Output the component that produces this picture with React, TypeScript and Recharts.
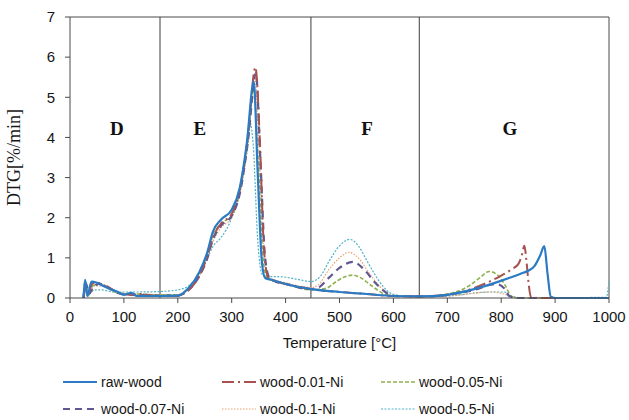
import { LineChart, Line, XAxis, YAxis, ReferenceLine, ReferenceDot, Legend } from 'recharts'

// temperature [°C] / DTG [%/min], one pair of arrays per sample
const rawWoodT = [25, 28, 32, 40, 50, 62, 75, 87, 100, 114, 124, 140, 170, 200, 220, 240, 255, 265, 280, 300, 315, 328, 341, 348, 356, 362, 375, 400, 448, 500, 550, 600, 650, 700, 750, 798, 835, 850, 862, 872, 880, 886, 892, 900, 1000]
const rawWoodV = [0, 0.45, 0.05, 0.41, 0.38, 0.3, 0.22, 0.16, 0.08, 0.13, 0.05, 0.05, 0.05, 0.06, 0.25, 0.65, 1.15, 1.65, 1.95, 2.2, 2.75, 3.85, 5.4, 3.2, 0.9, 0.5, 0.45, 0.35, 0.22, 0.15, 0.1, 0.05, 0.04, 0.08, 0.22, 0.42, 0.6, 0.68, 0.8, 1.05, 1.29, 0.6, 0.03, 0, 0]

const ni001T = [25, 28, 33, 42, 52, 65, 80, 95, 110, 130, 160, 200, 220, 240, 255, 265, 280, 300, 315, 330, 344, 352, 360, 368, 380, 400, 448, 500, 550, 600, 650, 700, 750, 780, 800, 820, 832, 838, 843, 847, 851, 855, 870, 1000]
const ni001V = [0, 0.3, 0.1, 0.36, 0.38, 0.3, 0.2, 0.1, 0.08, 0.1, 0.05, 0.05, 0.2, 0.55, 1.05, 1.5, 1.85, 2.1, 2.7, 4.0, 5.75, 4.0, 1.2, 0.5, 0.42, 0.35, 0.22, 0.15, 0.1, 0.05, 0.04, 0.08, 0.25, 0.42, 0.56, 0.72, 0.85, 1.05, 1.3, 0.9, 0.35, 0.03, 0, 0]

const ni005T = [25, 28, 33, 42, 55, 70, 90, 120, 160, 200, 220, 240, 255, 265, 280, 300, 315, 330, 340, 350, 358, 366, 380, 400, 448, 475, 495, 510, 525, 540, 560, 580, 600, 650, 700, 740, 760, 778, 795, 808, 818, 830, 1000]
const ni005V = [0, 0.42, 0.05, 0.3, 0.35, 0.25, 0.12, 0.1, 0.08, 0.08, 0.25, 0.6, 1.1, 1.55, 1.85, 2.05, 2.65, 3.9, 5.2, 3.2, 1.0, 0.5, 0.42, 0.35, 0.2, 0.24, 0.42, 0.53, 0.57, 0.5, 0.3, 0.12, 0.05, 0.04, 0.1, 0.3, 0.5, 0.66, 0.55, 0.3, 0.05, 0, 0]

const ni007T = [25, 30, 35, 45, 55, 70, 90, 120, 160, 200, 220, 240, 255, 265, 280, 300, 315, 330, 345, 353, 362, 370, 380, 400, 448, 460, 480, 500, 525, 545, 565, 585, 600, 650, 700, 750, 790, 805, 815, 830, 1000]
const ni007V = [0, 0.35, 0.1, 0.3, 0.35, 0.28, 0.12, 0.08, 0.06, 0.06, 0.2, 0.55, 1.0, 1.45, 1.8, 2.05, 2.6, 3.9, 5.6, 3.5, 1.0, 0.5, 0.42, 0.35, 0.22, 0.25, 0.5, 0.75, 0.9, 0.72, 0.4, 0.15, 0.05, 0.04, 0.08, 0.2, 0.35, 0.25, 0.05, 0, 0]

const ni01T = [25, 30, 35, 45, 60, 80, 100, 130, 160, 200, 220, 240, 255, 265, 280, 300, 315, 330, 343, 351, 360, 368, 380, 400, 448, 460, 480, 500, 517, 535, 555, 575, 600, 650, 700, 780, 800, 820, 840, 1000]
const ni01V = [0, 0.3, 0.1, 0.3, 0.3, 0.18, 0.1, 0.1, 0.08, 0.08, 0.22, 0.55, 1.0, 1.4, 1.75, 2.0, 2.6, 3.8, 5.5, 3.6, 1.1, 0.52, 0.45, 0.38, 0.26, 0.32, 0.7, 1.0, 1.14, 1.0, 0.62, 0.28, 0.07, 0.04, 0.05, 0.15, 0.12, 0.03, 0, 0]

const ni05T = [25, 30, 35, 45, 60, 80, 100, 130, 167, 198, 220, 240, 255, 266, 280, 300, 315, 325, 333, 340, 348, 356, 365, 390, 420, 448, 465, 480, 500, 519, 535, 550, 565, 580, 598, 620, 650, 700, 780, 805, 820, 840, 995, 1000]
const ni05V = [0, 0.25, 0.1, 0.2, 0.2, 0.15, 0.15, 0.15, 0.16, 0.2, 0.3, 0.6, 1.0, 1.3, 1.5, 2.0, 2.7, 3.5, 4.4, 3.8, 1.5, 0.6, 0.53, 0.53, 0.47, 0.41, 0.55, 0.9, 1.3, 1.46, 1.3, 0.95, 0.6, 0.3, 0.1, 0.05, 0.03, 0.05, 0.15, 0.15, 0.05, 0, 0.02, 0.42]

const xTicks = [0, 100, 200, 300, 400, 500, 600, 700, 800, 900, 1000]
const yTicks = [0, 1, 2, 3, 4, 5, 6, 7]
const stageBounds = [167, 447, 648]
const stageNames = ['D', 'E', 'F', 'G']
const stageLabelT = [87, 241, 551, 816]
const stageLabelY = 4.24

const toPoints = (t: number[], v: number[]) => t.map((x, i) => ({ t: x, v: v[i] }))

const series = [
  { name: 'raw-wood', data: toPoints(rawWoodT, rawWoodV), color: '#2b7bc4', width: 2.2, dash: undefined as string | undefined },
  { name: 'wood-0.01-Ni', data: toPoints(ni001T, ni001V), color: '#a8514e', width: 2, dash: '12 4 2 4' },
  { name: 'wood-0.05-Ni', data: toPoints(ni005T, ni005V), color: '#8fb14e', width: 1.6, dash: '4 2' },
  { name: 'wood-0.07-Ni', data: toPoints(ni007T, ni007V), color: '#5f5892', width: 2.2, dash: '7 5' },
  { name: 'wood-0.1-Ni', data: toPoints(ni01T, ni01V), color: '#e8a070', width: 1.2, dash: '1.5 1.5' },
  { name: 'wood-0.5-Ni', data: toPoints(ni05T, ni05V), color: '#4fb3c8', width: 1.2, dash: '2 1.5' },
]

// drawing order: faint curves underneath, raw-wood on top
const drawOrder = [5, 4, 2, 3, 1, 0]

const axisColor = '#4a4a4a'
const tickFont = { fill: '#161616', fontSize: 15, fontFamily: 'Liberation Sans' }

function LegendBox() {
  const colX = [63, 222, 381]
  const rowY = [24, 51]
  return (
    <svg width={629} height={62}>
      {series.map((s, i) => {
        const x = colX[i % 3]
        const y = rowY[Math.floor(i / 3)]
        return (
          <g key={s.name}>
            <line x1={x} x2={x + 34} y1={y} y2={y} stroke={s.color} strokeWidth={s.width} strokeDasharray={s.dash} />
            <text x={x + 38} y={y} dy="0.35em" fontSize={14} fontFamily="Liberation Sans" fill="#161616">
              {s.name}
            </text>
          </g>
        )
      })}
    </svg>
  )
}

export default function App() {
  return (
    <div style={{ position: 'absolute', left: 0, top: 0, width: 629, height: 420, background: '#fff' }}>
      <LineChart width={629} height={420} margin={{ top: 17, right: 20, left: 0, bottom: 0 }}>
        <XAxis
          dataKey="t"
          type="number"
          domain={[0, 1000]}
          ticks={xTicks}
          height={60}
          tickSize={5}
          tickMargin={8}
          stroke={axisColor}
          tick={tickFont}
          label={{ value: 'Temperature [°C]', position: 'insideBottom', offset: 10, fill: '#161616', fontSize: 15, fontFamily: 'Liberation Sans' }}
        />
        <YAxis
          type="number"
          domain={[0, 7]}
          ticks={yTicks}
          width={70}
          tickSize={5}
          tickMargin={10}
          stroke={axisColor}
          tick={tickFont}
          label={{ value: 'DTG[%/min]', angle: -90, position: 'insideLeft', offset: 14, fill: '#161616', fontSize: 18, fontFamily: 'Liberation Serif', style: { textAnchor: 'middle' } }}
        />
        <ReferenceLine y={7} stroke={axisColor} strokeWidth={1} />
        <ReferenceLine x={1000} stroke={axisColor} strokeWidth={1} />
        {stageBounds.map((b) => (
          <ReferenceLine key={b} x={b} stroke="#3c3c3c" strokeWidth={1} />
        ))}
        {stageNames.map((n, i) => (
          <ReferenceDot
            key={n}
            x={stageLabelT[i]}
            y={stageLabelY}
            r={0}
            stroke="none"
            fill="none"
            label={{ value: n, position: 'center', fill: '#111', fontSize: 19, fontWeight: 700, fontFamily: 'Liberation Serif' }}
          />
        ))}
        {drawOrder.map((i) => {
          const s = series[i]
          return (
            <Line
              key={s.name}
              name={s.name}
              data={s.data}
              dataKey="v"
              type="monotone"
              stroke={s.color}
              strokeWidth={s.width}
              strokeDasharray={s.dash}
              dot={false}
              activeDot={false}
              isAnimationActive={false}
            />
          )
        })}
        <Legend verticalAlign="bottom" height={62} content={<LegendBox />} wrapperStyle={{ left: 0, width: 629, height: 62 }} />
      </LineChart>
    </div>
  )
}
